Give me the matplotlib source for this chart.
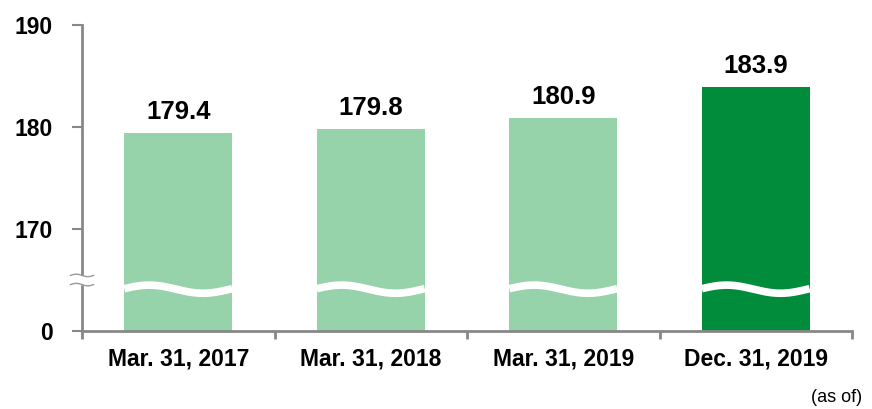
import numpy as np
import matplotlib
matplotlib.use("Agg")
import matplotlib.pyplot as plt

categories = ["Mar. 31, 2017", "Mar. 31, 2018", "Mar. 31, 2019", "Dec. 31, 2019"]
values = [179.4, 179.8, 180.9, 183.9]
ytick_labels = ["0", "170", "180", "190"]
colors = ["#96D3AA", "#96D3AA", "#96D3AA", "#008C3A"]

BASE = 160.0  # broken-axis offset: display = value - BASE
plt.rcParams['font.family'] = ['Liberation Sans', 'DejaVu Sans']

fig = plt.figure(figsize=(8.72, 4.09), dpi=100)
ax = fig.add_axes([82/872, 78/409, 770/872, 306/409])

x = np.arange(len(categories))
disp = [v - BASE for v in values]
bw = 0.56
bars = ax.bar(x, disp, width=bw, color=colors, zorder=2)

for xi, d, v in zip(x, disp, values):
    ax.text(xi, d + 0.9, f"{v:.1f}", ha='center', va='bottom',
            fontsize=18.5, fontweight='bold', color='black')

# wave break on each bar
for xi in x:
    t = np.linspace(0, 1, 200)
    xs = xi - bw/2 + t*bw
    ys = 4.1 + 0.4*np.sin(2*np.pi*(t + 0.02))
    ax.plot(xs, ys, color='white', lw=5.5, solid_capstyle='butt', zorder=3)

ax.set_xlim(-0.5, len(categories) - 0.5)
ax.set_ylim(0, 30)
ax.set_yticks([0, 10, 20, 30])
ax.set_yticklabels(ytick_labels, fontsize=16.5, fontweight='bold')
ax.set_xticks(x)
ax.set_xticklabels(categories, fontsize=16.5, fontweight='bold')
ax.tick_params(axis='x', length=0, pad=12)
ax.set_xticks(np.arange(-0.5, len(categories)), minor=True)
ax.tick_params(axis='x', which='minor', length=6, width=2, color='#888888')
ax.tick_params(axis='y', length=7, width=1.5, color='#888888', pad=14)

for s in ['top', 'right']:
    ax.spines[s].set_visible(False)
for s in ['left', 'bottom']:
    ax.spines[s].set_color('#888888')
    ax.spines[s].set_linewidth(2)

# axis break mark on y axis
tr = ax.get_yaxis_transform()
ax.add_patch(plt.Rectangle((-0.02, 4.6), 0.04, 0.8, transform=tr,
                           color='white', zorder=5, clip_on=False))
for yc in (5.45, 4.55):
    tt = np.linspace(0, 1, 50)
    xx = -0.015 + tt*0.03
    yy = yc + 0.12*np.sin(2*np.pi*tt)
    ax.plot(xx, yy, color='#999999', lw=1, transform=tr, clip_on=False, zorder=6)

fig.text(862/872, 1 - 398/409, "(as of)", ha='right', va='center', fontsize=13)

fig.savefig("out.png", dpi=100)
